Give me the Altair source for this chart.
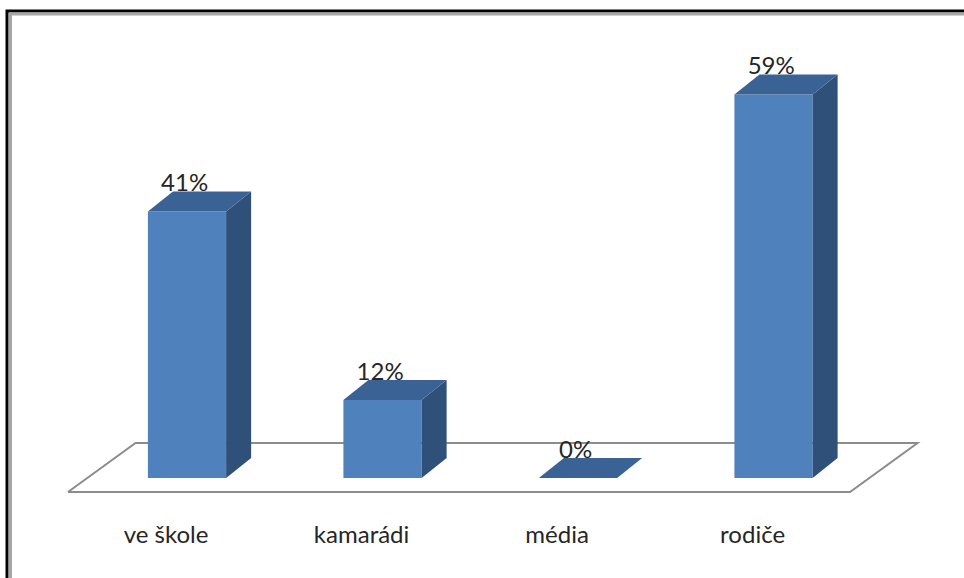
import altair as alt
import pandas as pd

# ---- data ----
categories = ["ve škole", "kamarádi", "média", "rodiče"]
values = [41, 12, 0, 59]
value_labels = ["41%", "12%", "0%", "59%"]

# ---- styling / geometry constants (not data) ----
BAR_HALF = 0.2      # half bar width in category units
DX = 0.128          # oblique depth shift along x (category units)
DY = 3.08           # oblique depth shift along y (value units)
FLOOR_DX = 0.141
FLOOR_FRONT = -0.7  # floor depth extents (in bar-depth units)
FLOOR_BACK = 1.75
FLOOR_LEFT = -0.51
FLOOR_RIGHT = 3.49
X_DOMAIN = [-0.9565, 3.9744]
Y_DOMAIN = [-15.385, 73.538]
FONT = "Lato"

FRONT = "#4F81BD"
TOP = "#3B6294"
SIDE = "#2F5079"

xs = alt.Scale(domain=X_DOMAIN, nice=False, zero=False)
ys = alt.Scale(domain=Y_DOMAIN, nice=False, zero=False)

front_rows, side_rows, top_rows, lab_rows = [], [], [], []
for i, (c, v, l) in enumerate(zip(categories, values, value_labels)):
    front_rows.append({"cat": c, "x0": i - BAR_HALF, "x1": i + BAR_HALF, "y0": 0, "y1": v})
    side_rows.append({"cat": c, "x": i + BAR_HALF, "top": v, "bot": 0})
    side_rows.append({"cat": c, "x": i + BAR_HALF + DX, "top": v + DY, "bot": DY})
    top_rows.append({"cat": c, "y": v, "xl": i - BAR_HALF, "xr": i + BAR_HALF})
    top_rows.append({"cat": c, "y": v + DY, "xl": i - BAR_HALF + DX, "xr": i + BAR_HALF + DX})
    lab_rows.append({"cat": c, "lab": l, "lx": i - 0.012, "ly": v + DY, "cx": i - 0.107, "cy": -10.0})

front_df = pd.DataFrame(front_rows)
side_df = pd.DataFrame(side_rows)
top_df = pd.DataFrame(top_rows)
lab_df = pd.DataFrame(lab_rows)

floor_df = pd.DataFrame([
    {"o": 0, "x": FLOOR_LEFT + FLOOR_FRONT * FLOOR_DX, "y": FLOOR_FRONT * DY},
    {"o": 1, "x": FLOOR_RIGHT + FLOOR_FRONT * FLOOR_DX, "y": FLOOR_FRONT * DY},
    {"o": 2, "x": FLOOR_RIGHT + FLOOR_BACK * FLOOR_DX, "y": FLOOR_BACK * DY},
    {"o": 3, "x": FLOOR_LEFT + FLOOR_BACK * FLOOR_DX, "y": FLOOR_BACK * DY},
    {"o": 4, "x": FLOOR_LEFT + FLOOR_FRONT * FLOOR_DX, "y": FLOOR_FRONT * DY},
])

frame_black = alt.Chart(pd.DataFrame({"a": [0]})).mark_rect(
    fill=None, stroke="#000000", strokeWidth=3
).encode(x=alt.value(7), x2=alt.value(1200), y=alt.value(11), y2=alt.value(900))

frame_grey = alt.Chart(pd.DataFrame({"a": [0]})).mark_rect(
    fill=None, stroke="#A6A6A6", strokeWidth=3
).encode(x=alt.value(10.5), x2=alt.value(1200), y=alt.value(14), y2=alt.value(900))

floor = alt.Chart(floor_df).mark_line(color="#8C8C8C", strokeWidth=2).encode(
    x=alt.X("x:Q", scale=xs, axis=None),
    y=alt.Y("y:Q", scale=ys, axis=None),
    order="o:Q",
)

front = alt.Chart(front_df).mark_rect(color=FRONT).encode(
    x=alt.X("x0:Q", scale=xs, axis=None), x2="x1:Q",
    y=alt.Y("y0:Q", scale=ys, axis=None), y2="y1:Q",
)

side = alt.Chart(side_df).mark_area(color=SIDE, orient="vertical").encode(
    x=alt.X("x:Q", scale=xs, axis=None),
    y=alt.Y("top:Q", scale=ys, axis=None), y2="bot:Q",
    detail="cat:N",
)

top = alt.Chart(top_df).mark_area(color=TOP, orient="horizontal").encode(
    y=alt.Y("y:Q", scale=ys, axis=None),
    x=alt.X("xl:Q", scale=xs, axis=None), x2="xr:Q",
    detail="cat:N",
)

pct = alt.Chart(lab_df).mark_text(
    font=FONT, fontSize=24, color="#262626", align="center", baseline="alphabetic"
).encode(
    x=alt.X("lx:Q", scale=xs, axis=None),
    y=alt.Y("ly:Q", scale=ys, axis=None),
    text="lab:N",
)

cat = alt.Chart(lab_df).mark_text(
    font=FONT, fontSize=24, color="#262626", align="center", baseline="alphabetic"
).encode(
    x=alt.X("cx:Q", scale=xs, axis=None),
    y=alt.Y("cy:Q", scale=ys, axis=None),
    text="cat:N",
)

chart = alt.layer(frame_black, frame_grey, floor, front, side, top, pct, cat).properties(
    width=964, height=578, padding=0, autosize="none", background="white"
).configure_view(stroke=None)

chart.save("out.html", embed_options={"renderer": "svg", "actions": False})
